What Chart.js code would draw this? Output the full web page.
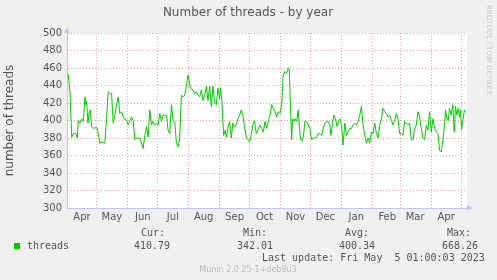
<!DOCTYPE html>
<html>
<script src="https://cdn.jsdelivr.net/npm/chart.js@4.4.0/dist/chart.umd.min.js"></script>
<body style="margin:0;background:#f0f0f0">

<canvas id="myChart" width="497" height="280"></canvas>

<script>
// days since 2022-04-01
var days = [0,1.3,3,4.7,6.3,9,10.3,11.3,13,14.7,16.3,18,19,19.7,21,22.3,23.3,24.7,26.3,29.7,
  30.7,33,34.7,38,39.7,41.3,43,44.7,46.3,48,49.7,51.3,53,54.7,56.3,58,59.7,61.3,63,64.7,
  66.3,68,69.7,73,74.7,76.3,78,79.7,81.3,83,84.7,86.3,88,89.7,91.3,93,94.7,96.3,98,99.7,
  101.3,103,104.7,106.3,108,109.7,111.3,113,114.7,116.3,118,119.7,121.3,122.3,123.7,126.3,128,129.7,131.3,133,
  134.7,136.3,138,139.7,141.3,143,144.7,146.3,148,149.7,151.3,153,154,155.3,157,158.7,159.7,161.3,163,164.7,
  166.3,168,169.7,171.3,173,174.7,176.3,178,179.7,181.3,183,184.7,186.3,188,189.7,191.3,193.5,195.2,196.8,198.5,
  200.2,201.8,203.5,205.2,206.8,208.5,210.2,211.8,213.5,215.2,216.8,218.5,220.2,221.8,222.8,224.2,225.2,226.2,227.5,228.5,
  230.2,231.8,232.8,234.2,236.2,237.5,238.5,240.2,241.8,243.5,245.2,246.8,248.5,250.2,251.8,253.5,255.2,256.8,258.5,260.2,
  261.8,263.5,264.5,265.8,267.5,269.2,270.8,272.5,274.2,275.8,276.8,278.5,280.2,281.8,283.5,285.2,286.8,288.5,290.2,291.8,
  293.5,295.2,296.8,298.5,300.2,301.8,303.5,305.2,306.8,308.5,310.2,311.8,313.5,315.2,316.8,318.5,320.2,321.8,323.5,325.2,
  326.8,328.5,330.2,331.8,333.5,335.2,336.8,338.5,340.2,341.8,343.5,345.2,346.8,348.5,350.2,351.8,353.5,355.2,356.8,358.5,
  360.2,361.8,363.5,365.2,366.8,368.5,370.2,371.8,373.5,375.2,376.8,378.5,379.5,380.8,382.2,383.5,385.2,386.8,388.2,389.5,
  390.8,392.2,393.5,394.5,395.5,396.8,398.5,399.2];
var threads = [454,452,433,381,385,385,380,400,397,402,399,427,418,422,397,410,412,393,391,392,
  389,374,376,374,402,433,431,431,397,406,418,427,408,410,404,402,400,395,399,404,
  400,378,380,380,374,368,383,393,381,412,395,399,395,397,395,408,399,406,406,406,
  389,385,418,400,399,374,370,380,429,427,429,439,452,446,437,435,431,433,429,427,
  435,423,429,439,423,439,416,439,420,418,437,425,437,422,383,389,381,391,399,380,
  397,393,395,402,406,412,406,393,381,378,376,383,395,400,385,389,395,391,387,399,
  391,399,406,418,414,410,404,410,408,418,452,456,454,460,458,410,378,402,399,402,
  399,412,395,378,377,387,399,399,395,391,378,380,380,381,385,385,383,391,397,399,
  399,395,383,393,406,402,393,400,402,387,372,397,383,387,391,391,395,397,395,399,
  406,416,395,383,374,380,374,387,385,397,385,380,395,402,414,410,408,404,406,400,
  395,400,408,402,385,385,383,399,397,395,397,378,378,391,395,410,404,391,380,378,
  395,389,410,387,402,391,387,385,366,364,378,395,412,402,400,414,406,418,387,416,
  406,414,404,412,389,400,412,410];

var monthStarts = [0,30,61,91,122,153,183,214,244,275,306,334,365,395];
var monthLabels = ["Apr","May","Jun","Jul","Aug","Sep","Oct","Nov","Dec","Jan","Feb","Mar","Apr",""];

var legendHead = ["Cur:", "Min:", "Avg:", "Max:"];
var legendVals = ["410.79", "342.01", "400.34", "668.26"];

var points = days.map(function (d, i) { return {x: d, y: threads[i]} });

var axisColor = "#c4c4ee";

var munin = {
  id: "munin",
  beforeDraw: function (chart) {
    var c = chart.ctx, a = chart.chartArea;
    c.save();
    c.fillStyle = "#f0f0f0";
    c.fillRect(0, 0, chart.width, chart.height);
    c.fillStyle = "#ffffff";
    c.fillRect(a.left, a.top, a.right - a.left, a.bottom - a.top);
    c.restore();
  },
  afterDraw: function (chart) {
    var c = chart.ctx, a = chart.chartArea;
    c.save();
    // axis arrows
    c.fillStyle = axisColor;
    c.beginPath();
    c.moveTo(a.left - 3, a.top); c.lineTo(a.left + 3, a.top); c.lineTo(a.left, a.top - 6);
    c.fill();
    c.beginPath();
    c.moveTo(a.right, a.bottom - 3); c.lineTo(a.right, a.bottom + 3); c.lineTo(a.right + 6, a.bottom);
    c.fill();

    c.textBaseline = "middle";
    c.fillStyle = "#555";
    c.font = "12px 'DejaVu Sans'";
    c.textAlign = "center";
    c.fillText("Number of threads - by year", 248, 13);

    c.textAlign = "left";
    c.font = "10px 'DejaVu Sans Mono'";
    var headX = [141, 243, 345, 447];
    var valX = [134, 237, 339, 442];
    for (var i = 0; i < 4; i++) {
      c.fillText(legendHead[i], headX[i], 233);
      c.fillText(legendVals[i], valX[i], 246);
    }
    c.fillText("threads", 27, 246);
    c.fillText("Last update: Fri May  5 01:00:03 2023", 262, 258);
    c.fillStyle = "#00cc00";
    c.fillRect(14, 243, 6, 6);

    c.fillStyle = "#bbb";
    c.font = "8px 'DejaVu Sans'";
    c.textAlign = "center";
    c.fillText("Munin 2.0.25-1+deb8u3", 248, 270);

    c.fillStyle = "#c8c8c8";
    c.translate(489, 5);
    c.rotate(Math.PI / 2);
    c.textAlign = "left";
    c.font = "7px 'DejaVu Sans'";
    c.fillText("RRDTOOL / TOBI OETIKER", 0, 0);
    c.restore();
  }
};

new Chart("myChart", {
  type: "line",
  data: {
    datasets: [{
      label: "threads",
      data: points,
      borderColor: "#00cc00",
      borderWidth: 1,
      pointRadius: 0,
      tension: 0,
      fill: false
    }]
  },
  options: {
    responsive: false,
    animation: false,
    events: [],
    layout: { padding: { top: 33, right: 30, left: 0, bottom: 0 } },
    plugins: { legend: { display: false }, title: { display: false }, tooltip: { enabled: false } },
    scales: {
      x: {
        type: "linear",
        min: 0,
        max: 401,
        afterBuildTicks: function (scale) {
          scale.ticks = monthStarts.map(function (v) { return {value: v} });
        },
        afterFit: function (scale) { scale.height = 72; },
        ticks: {
          autoSkip: false,
          maxRotation: 0,
          labelOffset: 15,
          padding: 3,
          color: "#555",
          font: { family: "'DejaVu Sans'", size: 10 },
          callback: function (v, i) { return monthLabels[i]; }
        },
        grid: {
          drawTicks: false,
          color: function (ctx) { return ctx.index === 0 ? "rgba(0,0,0,0)" : "#f0a8a8"; }
        },
        border: { color: axisColor, dash: [1, 2] }
      },
      y: {
        min: 300,
        max: 500,
        afterFit: function (scale) { scale.width = 67; },
        ticks: {
          stepSize: 10,
          padding: 5,
          color: "#555",
          font: { family: "'DejaVu Sans'", size: 10 },
          callback: function (v) { return v % 20 === 0 ? v : ""; }
        },
        grid: {
          drawTicks: false,
          color: function (ctx) { return ctx.tick.value % 20 === 0 ? "#f0a8a8" : "#d4d4d4"; }
        },
        border: { color: axisColor, dash: [1, 2] },
        title: {
          display: true,
          text: "number of threads",
          color: "#555",
          font: { family: "'DejaVu Sans'", size: 12 },
          padding: { top: 3, bottom: 0 }
        }
      }
    }
  },
  plugins: [munin]
});
</script>

</body>
</html>
